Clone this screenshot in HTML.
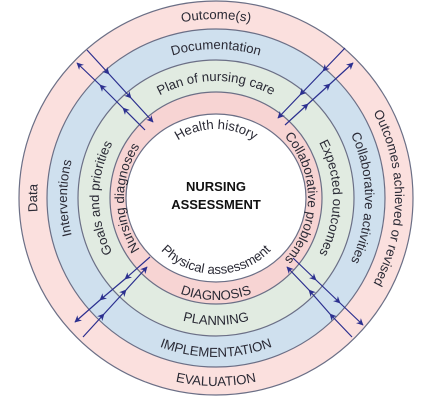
<!DOCTYPE html>
<html><head><meta charset="utf-8"><style>
html,body{margin:0;padding:0;background:#fff;}
svg{display:block;}
text{font-family:"Liberation Sans",sans-serif;fill:#2a2a35;}
</style></head><body>
<svg width="433" height="403" viewBox="0 0 433 403" xmlns="http://www.w3.org/2000/svg">
<defs>
<marker id="ah" viewBox="0 0 10 10" refX="9" refY="5" markerWidth="7" markerHeight="7" orient="auto" markerUnits="userSpaceOnUse">
<path d="M0,0 L10,5 L0,10 L3,5 z" fill="#2b2f8f"/>
</marker>
<path id="t1" d="M37,198 A179,179 0 0 1 395,198"/>
<path id="t2" d="M67,198 A149,149 0 0 1 365,198"/>
<path id="t3" d="M99,198 A117,117 0 0 1 333,198"/>
<path id="t5" d="M147,198 A69,69 0 0 1 285,198"/>
<path id="b1" d="M28,198 A188,188 0 0 0 404,198"/>
<path id="b2" d="M57,198 A159,159 0 0 0 375,198"/>
<path id="b3" d="M89,198 A127,127 0 0 0 343,198"/>
<path id="b4" d="M114,198 A102,102 0 0 0 318,198"/>
<path id="b5" d="M140,198 A76,76 0 0 0 292,198"/>
<path id="l1" d="M216,377 A179,179 0 0 1 216,19"/>
<path id="l2" d="M216,347 A149,149 0 0 1 216,49"/>
<path id="l3" d="M216,315 A117,117 0 0 1 216,81"/>
<path id="l4" d="M216,290 A92,92 0 0 1 216,106"/>
<path id="r1" d="M216,19 A179,179 0 0 1 216,377"/>
<path id="r2" d="M216,49 A149,149 0 0 1 216,347"/>
<path id="r3" d="M216,81 A117,117 0 0 1 216,315"/>
<path id="r4" d="M216,106 A92,92 0 0 1 216,290"/>
</defs>
<g stroke="#6b6f86" stroke-width="1.2">
<circle cx="216" cy="198" r="197" fill="#fbe0de"/>
<circle cx="216" cy="198" r="169" fill="#cfe0ee"/>
<circle cx="216" cy="198" r="138" fill="#e1ebe1"/>
<circle cx="216" cy="198" r="106" fill="#f7d4d3"/>
<ellipse cx="216" cy="198" rx="90" ry="84" fill="#ffffff"/>
</g>
<g font-size="13.2" text-anchor="middle">
<text><textPath href="#t1" startOffset="50%">Outcome(s)</textPath></text>
<text><textPath href="#t2" startOffset="50%">Documentation</textPath></text>
<text><textPath href="#t3" startOffset="50%">Plan of nursing care</textPath></text>
<text><textPath href="#t5" startOffset="50%">Health history</textPath></text>
<text><textPath href="#b1" startOffset="50%">EVALUATION</textPath></text>
<text><textPath href="#b2" startOffset="50%">IMPLEMENTATION</textPath></text>
<text><textPath href="#b3" startOffset="50%">PLANNING</textPath></text>
<text><textPath href="#b4" startOffset="50%">DIAGNOSIS</textPath></text>
<text><textPath href="#b5" startOffset="50%">Physical assessment</textPath></text>
<text><textPath href="#l1" startOffset="50%">Data</textPath></text>
<text><textPath href="#l2" startOffset="50%">Interventions</textPath></text>
<text><textPath href="#l3" startOffset="50%">Goals and priorities</textPath></text>
<text><textPath href="#l4" startOffset="50%">Nursing diagnoses</textPath></text>
<text><textPath href="#r1" startOffset="50%">Outcomes achieved or revised</textPath></text>
<text><textPath href="#r2" startOffset="50%">Collaborative activities</textPath></text>
<text><textPath href="#r3" startOffset="50%">Expected outcomes</textPath></text>
<text><textPath href="#r4" startOffset="50%">Collaborative problems</textPath></text>
</g>
<text x="216" y="191" font-size="13" font-weight="bold" text-anchor="middle" style="fill:#111">NURSING</text>
<text x="216" y="209" font-size="13" font-weight="bold" text-anchor="middle" style="fill:#111">ASSESSMENT</text>
<g stroke="#2b2f8f" stroke-width="1.2" fill="none" marker-mid="url(#ah)" marker-end="url(#ah)">
<polyline points="87,50 109,74 131,98 153,122"/>
<polyline points="145,130 123,108 100,85 77,63"/>
<polyline points="345,48 323,71 300,95 278,118"/>
<polyline points="285,125 308,104 330,84 353,63"/>
<polyline points="150,257 125,279 100,300 75,322"/>
<polyline points="83,337 104,314 126,290 147,267"/>
<polyline points="293,258 316,280 340,303 363,325"/>
<polyline points="352,337 330,314 309,290 287,267"/>
</g>
</svg>
</body></html>
